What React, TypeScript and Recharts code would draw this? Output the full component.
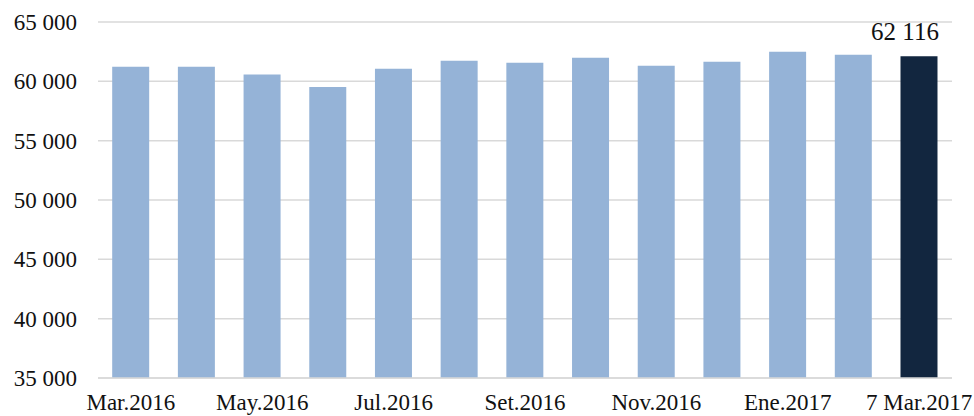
import { Bar, BarChart, CartesianGrid, Cell, LabelList, XAxis, YAxis } from "recharts";

const months = [
  "Mar.2016",
  "Abr.2016",
  "May.2016",
  "Jun.2016",
  "Jul.2016",
  "Ago.2016",
  "Set.2016",
  "Oct.2016",
  "Nov.2016",
  "Dic.2016",
  "Ene.2017",
  "Feb.2017",
  "7 Mar.2017",
];
const values = [61230, 61230, 60580, 59520, 61060, 61740, 61570, 61990, 61320, 61650, 62500, 62240, 62116];
const yTicks = [35000, 40000, 45000, 50000, 55000, 60000, 65000];

const LIGHT = "#95b3d7";
const DARK = "#12263f";
const GRID = "#d9d9d9";
const FONT = "'Liberation Serif', 'DejaVu Serif', serif";

const fmt = (v: number) => {
  const s = Math.round(v).toString();
  return s.length > 3 ? `${s.slice(0, s.length - 3)} ${s.slice(-3)}` : s;
};

const rows = months.map((m, i) => ({ month: m, value: values[i] }));

// only the latest bar gets its value printed above it
function LastLabel(props: any) {
  const { x, y, width, value, index } = props;
  if (index !== values.length - 1) return null;
  return (
    <text
      x={x + width / 2 - 14}
      y={y - 16}
      textAnchor="middle"
      fontFamily={FONT}
      fontSize={25}
      fill="#111"
    >
      {fmt(value)}
    </text>
  );
}

export default function App() {
  const tick = { fill: "#111", fontSize: 23, fontFamily: FONT };
  return (
    <div style={{ position: "absolute", left: 0, top: 0, width: 974, height: 416, background: "#fff" }}>
      <BarChart
        width={974}
        height={416}
        data={rows}
        margin={{ top: 22, right: 22, left: 0, bottom: 0 }}
        barCategoryGap="21.6%"
      >
        <CartesianGrid stroke={GRID} strokeWidth={1.5} vertical={false} />
        <XAxis
          dataKey="month"
          interval={1}
          height={38}
          tick={tick}
          tickLine={false}
          tickMargin={10}
          axisLine={{ stroke: GRID, strokeWidth: 1.5 }}
        />
        <YAxis
          domain={[35000, 65000]}
          ticks={yTicks}
          tickFormatter={fmt}
          width={98}
          tick={tick}
          tickLine={false}
          tickMargin={15}
          axisLine={false}
        />
        <Bar dataKey="value" isAnimationActive={false}>
          {rows.map((r, i) => (
            <Cell key={r.month} fill={i === rows.length - 1 ? DARK : LIGHT} />
          ))}
          <LabelList dataKey="value" content={<LastLabel />} />
        </Bar>
      </BarChart>
    </div>
  );
}
